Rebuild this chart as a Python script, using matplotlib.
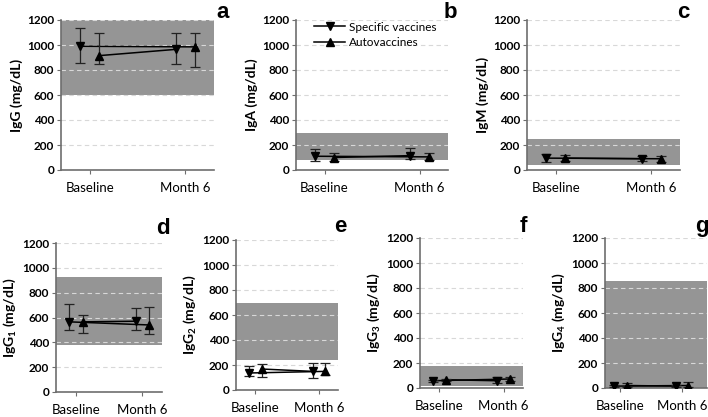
import numpy as np
import matplotlib
matplotlib.use('Agg')
import matplotlib.pyplot as plt
from matplotlib.lines import Line2D

plt.rcParams['font.family'] = ['Lato', 'DejaVu Sans']
plt.rcParams['mathtext.fontset'] = 'custom'
plt.rcParams['mathtext.bf'] = 'Lato:bold'
plt.rcParams['mathtext.rm'] = 'Lato:bold'

# --- Data ---
categories = ['Baseline', 'Month 6']
panel_letters = ['a', 'b', 'c', 'd', 'e', 'f', 'g']
ylabels = ['IgG (mg/dL)', 'IgA (mg/dL)', 'IgM (mg/dL)',
           r'IgG$_{\mathbf{1}}$ (mg/dL)', r'IgG$_{\mathbf{2}}$ (mg/dL)',
           r'IgG$_{\mathbf{3}}$ (mg/dL)', r'IgG$_{\mathbf{4}}$ (mg/dL)']

# reference range (shaded band)
ref_low = [600, 80, 40, 380, 240, 20, 0]
ref_high = [1200, 300, 250, 930, 700, 180, 860]

# specific vaccines: mean, lower and upper error bar ends [baseline, month 6]
spec_mean = [[990, 965], [110, 115], [95, 90], [565, 570], [136, 149], [58, 58], [15, 15]]
spec_low = [[855, 848], [70, 90], [66, 75], [500, 500], [112, 96], [50, 37], [5, 5]]
spec_high = [[1135, 1100], [165, 175], [128, 115], [705, 680], [189, 213], [68, 85], [22, 22]]

# autovaccines
auto_mean = [[915, 985], [100, 105], [95, 90], [565, 540], [168, 149], [66, 72], [20, 20]]
auto_low = [[845, 825], [75, 80], [70, 65], [475, 470], [106, 120], [56, 56], [5, 5]]
auto_high = [[1100, 1100], [140, 135], [120, 115], [620, 685], [205, 213], [74, 88], [40, 45]]

# --- Layout: axes boxes in pixels (left, right, top, bottom) ---
W, H = 708, 417
boxes = [(61, 214, 20, 170), (296, 448, 20, 170), (527, 680, 20, 170),
         (56, 162, 243, 392), (236, 338, 240, 390), (420, 523, 238, 388),
         (605, 707, 238, 388)]
xlims = [(-0.3, 1.3)] * 6 + [(-0.25, 1.4)]
letter_pos = [(223, 12), (450, 12), (683, 12), (163, 228), (340, 227), (523, 227), (702, 227)]

SHADE = '#959595'
AXCOL = '#6e6e6e'
OFF = 0.1

fig = plt.figure(figsize=(W / 100, H / 100), dpi=100)

for i in range(7):
    l, r, t, b = boxes[i]
    ax = fig.add_axes([l / W, 1 - b / H, (r - l) / W, (b - t) / H])
    x = np.arange(len(categories))

    ax.axhspan(ref_low[i], ref_high[i], color=SHADE, lw=0, zorder=0.2)

    xs = x - OFF
    xa = x + OFF
    sm, am = np.array(spec_mean[i]), np.array(auto_mean[i])
    serr = [sm - np.array(spec_low[i]), np.array(spec_high[i]) - sm]
    aerr = [am - np.array(auto_low[i]), np.array(auto_high[i]) - am]

    # connecting lines as drawn in the reference
    ax.plot([xs[0], xa[1]], [sm[0], am[1]], color='black', lw=1.1, zorder=3)
    ax.plot([xa[0], xs[1]], [am[0], sm[1]], color='black', lw=1.1, zorder=3)

    ax.errorbar(xs, sm, yerr=serr, fmt='v', color='black', ms=5.5,
                ecolor='#222222', elinewidth=0.9, capsize=3.5, capthick=0.9, zorder=4)
    ax.errorbar(xa, am, yerr=aerr, fmt='^', color='black', ms=5.5,
                ecolor='#222222', elinewidth=0.9, capsize=3.5, capthick=0.9, zorder=4)

    ax.set_xlim(*xlims[i])
    ax.set_ylim(0, 1200)
    ax.set_yticks(np.arange(0, 1201, 200))
    ax.set_xticks(x)
    ax.set_xticklabels(categories, fontsize=9.5)
    ax.tick_params(axis='x', length=3, pad=6, color=AXCOL)
    ax.tick_params(axis='y', length=3, pad=2, color=AXCOL, labelsize=8.5)
    for lab in ax.get_yticklabels():
        lab.set_fontweight('bold')

    ax.set_axisbelow(True)
    ax.yaxis.grid(True, color='#d8d8d8', linestyle=(0, (4, 3)), lw=0.8)
    ax.spines['top'].set_visible(False)
    ax.spines['right'].set_visible(False)
    ax.spines['left'].set_color(AXCOL)
    ax.spines['bottom'].set_color(AXCOL)
    ax.spines['left'].set_linewidth(1.2)
    ax.spines['bottom'].set_linewidth(1.2)
    ax.spines['left'].set_zorder(5)

    ax.set_ylabel(ylabels[i], fontsize=10, fontweight='bold', labelpad=3)

    lx, ly = letter_pos[i]
    fig.text(lx / W, 1 - ly / H, panel_letters[i], fontsize=16, fontweight='bold',
             family='Liberation Sans', ha='center', va='center')

    if i == 1:
        handles = [Line2D([], [], color='black', marker='v', ms=5.5, lw=1.1),
                   Line2D([], [], color='black', marker='^', ms=5.5, lw=1.1)]
        ax.legend(handles, ['Specific vaccines', 'Autovaccines'], loc='upper left',
                  bbox_to_anchor=(0.05, 1.06), frameon=False, fontsize=8.5,
                  handlelength=2.6, handletextpad=0.35, labelspacing=0.4)

fig.savefig('out.png', dpi=100)
